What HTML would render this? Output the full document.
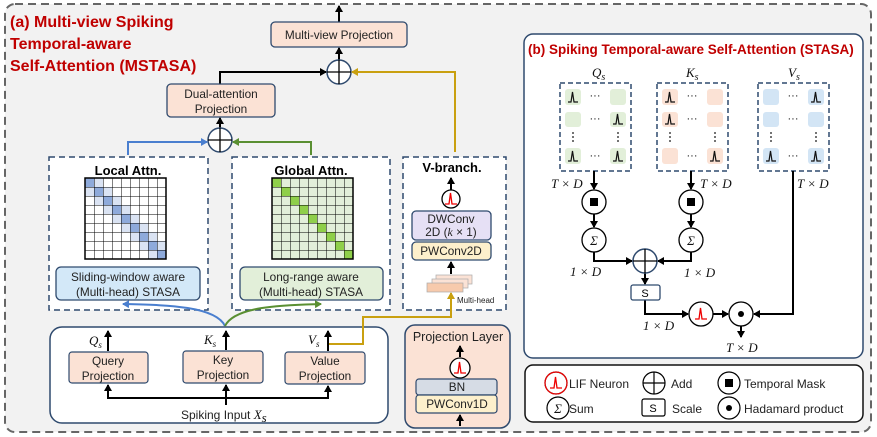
<!DOCTYPE html>
<html><head><meta charset="utf-8"><style>
html,body{margin:0;padding:0;background:#fff}
svg{display:block}
text{font-family:"Liberation Sans",sans-serif;}
.t{font-size:11.8px;fill:#222}
.m{font-family:"Liberation Serif",serif;font-style:italic;font-size:13px;fill:#111}
.ti{font-weight:bold;fill:#c00000}
</style></head><body>
<svg width="877" height="437" viewBox="0 0 877 437" xmlns="http://www.w3.org/2000/svg">
<defs>
<marker id="ak" markerWidth="8" markerHeight="8" refX="6" refY="4" orient="auto" markerUnits="userSpaceOnUse"><path d="M0,0 L7,4 L0,8 z" fill="#000"/></marker>
<marker id="ab" markerWidth="8" markerHeight="8" refX="6" refY="4" orient="auto" markerUnits="userSpaceOnUse"><path d="M0,0 L7,4 L0,8 z" fill="#4a7fcf"/></marker>
<marker id="ag" markerWidth="8" markerHeight="8" refX="6" refY="4" orient="auto" markerUnits="userSpaceOnUse"><path d="M0,0 L7,4 L0,8 z" fill="#5a8f32"/></marker>
<marker id="ay" markerWidth="8" markerHeight="8" refX="6" refY="4" orient="auto" markerUnits="userSpaceOnUse"><path d="M0,0 L7,4 L0,8 z" fill="#c9a010"/></marker>
<pattern id="grid" width="9" height="9" patternUnits="userSpaceOnUse" x="85" y="178"><path d="M0,0 H9 M0,0 V9" stroke="#000" stroke-width="1" fill="none"/></pattern>
<pattern id="grid2" width="9" height="9" patternUnits="userSpaceOnUse" x="272" y="178"><path d="M0,0 H9 M0,0 V9" stroke="#000" stroke-width="1" fill="none"/></pattern>
<g id="spk"><path d="M-5,4 L-2,4 L-0.5,-6 L1,4 L5,4" fill="none" stroke="#111" stroke-width="1.2"/></g>
<g id="spkr"><path d="M-6,4 L-2,4 L-0.5,-7 L1,4 L6,4" fill="none" stroke="#e00" stroke-width="1.3"/></g>
</defs>

<rect x="5" y="4" width="866" height="428" rx="10" fill="#f2f2f2" stroke="#666" stroke-width="2" stroke-dasharray="8,5"/>
<text class="ti" x="10" y="27" font-size="16">(a) Multi-view Spiking</text>
<text class="ti" x="10" y="49" font-size="16">Temporal-aware</text>
<text class="ti" x="10" y="71" font-size="16">Self-Attention (MSTASA)</text>

<line x1="339" y1="22" x2="339" y2="6" stroke="#000" stroke-width="2" marker-end="url(#ak)"/>
<rect x="271" y="22" width="136" height="25" rx="4" fill="#fbe2d5" stroke="#2f4a6e" stroke-width="1.3"/>
<text class="t" x="339" y="39" text-anchor="middle">Multi-view Projection</text>
<line x1="339" y1="60" x2="339" y2="48" stroke="#000" stroke-width="2" marker-end="url(#ak)"/>
<circle cx="339" cy="72" r="12" fill="#fff" stroke="#2f4a6e" stroke-width="1.5"/>
<path d="M327,72 H351 M339,60 V84" stroke="#000" stroke-width="1.3"/>
<polyline points="220,84 220,72 326,72" fill="none" stroke="#000" stroke-width="2" marker-end="url(#ak)"/>
<polyline points="455,152 455,72 352,72" fill="none" stroke="#c9a010" stroke-width="2" marker-end="url(#ay)"/>
<rect x="167" y="84" width="108" height="33" rx="4" fill="#fbe2d5" stroke="#2f4a6e" stroke-width="1.3"/>
<text class="t" x="221" y="98" text-anchor="middle">Dual-attention</text>
<text class="t" x="221" y="113" text-anchor="middle">Projection</text>
<line x1="220" y1="128" x2="220" y2="118" stroke="#000" stroke-width="2" marker-end="url(#ak)"/>
<circle cx="220" cy="140" r="12" fill="#fff" stroke="#2f4a6e" stroke-width="1.5"/>
<path d="M208,140 H232 M220,128 V152" stroke="#000" stroke-width="1.3"/>
<polyline points="128,155 128,142 207,142" fill="none" stroke="#4a7fcf" stroke-width="2" marker-end="url(#ab)"/>
<polyline points="311,155 311,142 233,142" fill="none" stroke="#5a8f32" stroke-width="2" marker-end="url(#ag)"/>

<rect x="49" y="157" width="159" height="153" fill="#fff" stroke="#2f4a6e" stroke-width="1.5" stroke-dasharray="6,4"/>
<text x="128" y="175" text-anchor="middle" font-size="13" font-weight="bold">Local Attn.</text>
<rect x="85" y="178" width="81" height="81" fill="#fff"/>
<g fill="#dae3f3">
<rect x="94" y="178" width="9" height="9"/><rect x="85" y="187" width="9" height="9"/><rect x="103" y="187" width="9" height="9"/><rect x="94" y="196" width="9" height="9"/><rect x="112" y="196" width="9" height="9"/><rect x="103" y="205" width="9" height="9"/><rect x="121" y="205" width="9" height="9"/><rect x="112" y="214" width="9" height="9"/><rect x="130" y="214" width="9" height="9"/><rect x="121" y="223" width="9" height="9"/><rect x="139" y="223" width="9" height="9"/><rect x="130" y="232" width="9" height="9"/><rect x="148" y="232" width="9" height="9"/><rect x="139" y="241" width="9" height="9"/><rect x="157" y="241" width="9" height="9"/><rect x="148" y="250" width="9" height="9"/>
</g>
<g fill="#8eaadb">
<rect x="85" y="178" width="9" height="9"/><rect x="94" y="187" width="9" height="9"/><rect x="103" y="196" width="9" height="9"/><rect x="112" y="205" width="9" height="9"/><rect x="121" y="214" width="9" height="9"/><rect x="130" y="223" width="9" height="9"/><rect x="139" y="232" width="9" height="9"/><rect x="148" y="241" width="9" height="9"/><rect x="157" y="250" width="9" height="9"/>
</g>
<rect x="85" y="178" width="81" height="81" fill="url(#grid)" stroke="#000" stroke-width="1.5"/>
<rect x="56" y="267" width="144" height="33" rx="5" fill="#d3e8f8" stroke="#2f4a6e" stroke-width="1.3"/>
<text class="t" x="128" y="281" text-anchor="middle">Sliding-window aware</text>
<text class="t" x="128" y="296" text-anchor="middle">(Multi-head) STASA</text>

<rect x="232" y="157" width="158" height="153" fill="#fff" stroke="#2f4a6e" stroke-width="1.5" stroke-dasharray="6,4"/>
<text x="311" y="175" text-anchor="middle" font-size="13" font-weight="bold">Global Attn.</text>
<rect x="272" y="178" width="81" height="81" fill="#e2efd9"/>
<g fill="#8fcf4a">
<rect x="272" y="178" width="9" height="9"/><rect x="281" y="187" width="9" height="9"/><rect x="290" y="196" width="9" height="9"/><rect x="299" y="205" width="9" height="9"/><rect x="308" y="214" width="9" height="9"/><rect x="317" y="223" width="9" height="9"/><rect x="326" y="232" width="9" height="9"/><rect x="335" y="241" width="9" height="9"/><rect x="344" y="250" width="9" height="9"/>
</g>
<rect x="272" y="178" width="81" height="81" fill="url(#grid2)" stroke="#000" stroke-width="1.5"/>
<rect x="240" y="267" width="143" height="33" rx="5" fill="#e2efd9" stroke="#2f4a6e" stroke-width="1.3"/>
<text class="t" x="311" y="281" text-anchor="middle">Long-range aware</text>
<text class="t" x="311" y="296" text-anchor="middle">(Multi-head) STASA</text>

<rect x="403" y="157" width="103" height="153" fill="#fff" stroke="#2f4a6e" stroke-width="1.5" stroke-dasharray="6,4"/>
<text x="452" y="172" text-anchor="middle" font-size="13" font-weight="bold">V-branch.</text>
<line x1="451" y1="190" x2="451" y2="178" stroke="#000" stroke-width="2" marker-end="url(#ak)"/>
<circle cx="451" cy="199" r="9" fill="#fff" stroke="#000" stroke-width="1.3"/>
<use href="#spkr" x="451" y="200"/>
<rect x="412" y="211" width="79" height="29" rx="4" fill="#e6e0f5" stroke="#2f4a6e" stroke-width="1.3"/>
<text class="t" x="451" y="223" text-anchor="middle">DWConv</text>
<text class="t" x="451" y="236" text-anchor="middle">2D (<tspan font-style="italic" font-family="Liberation Serif">k</tspan> × 1)</text>
<rect x="412" y="242" width="79" height="18" rx="4" fill="#fdf0cc" stroke="#2f4a6e" stroke-width="1.3"/>
<text class="t" x="451" y="255" text-anchor="middle">PWConv2D</text>
<line x1="451" y1="274" x2="451" y2="262" stroke="#000" stroke-width="2" marker-end="url(#ak)"/>
<rect x="436" y="275" width="36" height="9" fill="#fbe2d5" stroke="#aaa" stroke-width="0.7"/>
<rect x="432" y="279" width="36" height="9" fill="#fbe2d5" stroke="#aaa" stroke-width="0.7"/>
<rect x="427" y="283" width="36" height="9" fill="#f7caac" stroke="#aaa" stroke-width="0.7"/>
<text x="457" y="303" font-size="8" fill="#222">Multi-head</text>

<path d="M225,326 C215,305 160,305 123,304" fill="none" stroke="#4a7fcf" stroke-width="2" marker-end="url(#ab)"/>
<path d="M225,326 C235,305 290,305 321,304" fill="none" stroke="#5a8f32" stroke-width="2" marker-end="url(#ag)"/>

<rect x="50" y="327" width="338" height="96" rx="12" fill="#fff" stroke="#2f4a6e" stroke-width="1.5"/>
<rect x="69" y="352" width="79" height="31" rx="3" fill="#fbe2d5" stroke="#2f4a6e" stroke-width="1.2"/>
<text class="t" x="108" y="365" text-anchor="middle">Query</text><text class="t" x="108" y="380" text-anchor="middle">Projection</text>
<rect x="183" y="351" width="80" height="32" rx="3" fill="#fbe2d5" stroke="#2f4a6e" stroke-width="1.2"/>
<text class="t" x="223" y="364" text-anchor="middle">Key</text><text class="t" x="223" y="379" text-anchor="middle">Projection</text>
<rect x="285" y="352" width="80" height="32" rx="3" fill="#fbe2d5" stroke="#2f4a6e" stroke-width="1.2"/>
<text class="t" x="325" y="365" text-anchor="middle">Value</text><text class="t" x="325" y="380" text-anchor="middle">Projection</text>
<line x1="108" y1="351" x2="108" y2="331" stroke="#000" stroke-width="2" marker-end="url(#ak)"/>
<line x1="226" y1="350" x2="226" y2="331" stroke="#000" stroke-width="2" marker-end="url(#ak)"/>
<line x1="328" y1="351" x2="328" y2="331" stroke="#000" stroke-width="2" marker-end="url(#ak)"/>
<text class="m" x="89" y="345">Q<tspan font-size="9" dy="3">s</tspan></text>
<text class="m" x="204" y="344">K<tspan font-size="9" dy="3">s</tspan></text>
<text class="m" x="308" y="344">V<tspan font-size="9" dy="3">s</tspan></text>
<polyline points="108,398 328,398" fill="none" stroke="#000" stroke-width="2"/>
<line x1="108" y1="399" x2="108" y2="385" stroke="#000" stroke-width="2" marker-end="url(#ak)"/>
<line x1="328" y1="399" x2="328" y2="386" stroke="#000" stroke-width="2" marker-end="url(#ak)"/>
<line x1="226" y1="405" x2="226" y2="385" stroke="#000" stroke-width="2" marker-end="url(#ak)"/>
<text x="181" y="419" font-size="12" fill="#222">Spiking Input <tspan class="m">X</tspan><tspan class="m" font-size="9" dy="3">s</tspan></text>
<polyline points="329,344 363,344 363,317 451,317 451,293" fill="none" stroke="#c9a010" stroke-width="2" marker-end="url(#ay)"/>

<rect x="405" y="325" width="105" height="103" rx="10" fill="#fbe2d5" stroke="#2f4a6e" stroke-width="1.5"/>
<text x="458" y="341" text-anchor="middle" font-size="12.5" fill="#222">Projection Layer</text>
<line x1="460" y1="357" x2="460" y2="346" stroke="#000" stroke-width="2" marker-end="url(#ak)"/>
<circle cx="460" cy="368" r="10" fill="#fff" stroke="#000" stroke-width="1.3"/>
<use href="#spkr" x="460" y="369"/>
<rect x="416" y="379" width="81" height="16" rx="3" fill="#d6dce5" stroke="#2f4a6e" stroke-width="1.2"/>
<text class="t" x="457" y="391" text-anchor="middle">BN</text>
<rect x="416" y="395" width="81" height="18" rx="3" fill="#fdf0cc" stroke="#2f4a6e" stroke-width="1.2"/>
<text class="t" x="457" y="408" text-anchor="middle">PWConv1D</text>
<line x1="460" y1="426" x2="460" y2="415" stroke="#000" stroke-width="2" marker-end="url(#ak)"/>

<rect x="524" y="34" width="339" height="324" rx="9" fill="#fff" stroke="#2f4a6e" stroke-width="1.5"/>
<text class="ti" x="528" y="54" font-size="13.5">(b) Spiking Temporal-aware Self-Attention (STASA)</text>
<text class="m" x="592" y="77" font-size="14">Q<tspan font-size="10" dy="3">s</tspan></text>
<text class="m" x="686" y="77" font-size="14">K<tspan font-size="10" dy="3">s</tspan></text>
<text class="m" x="788" y="77" font-size="14">V<tspan font-size="10" dy="3">s</tspan></text>
<g stroke="#2f4a6e" stroke-width="1.5" stroke-dasharray="5,3" fill="#fff">
<rect x="560" y="83" width="71" height="88"/><rect x="657" y="83" width="71" height="88"/><rect x="758" y="83" width="71" height="88"/>
</g>
<g fill="#e2efd9">
<rect x="565" y="89" width="16" height="16" rx="3"/><rect x="610" y="89" width="16" height="16" rx="3"/>
<rect x="565" y="112" width="16" height="15" rx="3"/><rect x="610" y="112" width="16" height="15" rx="3"/>
<rect x="565" y="148" width="16" height="16" rx="3"/><rect x="610" y="148" width="16" height="16" rx="3"/>
</g>
<g fill="#fbe2d5">
<rect x="662" y="89" width="16" height="16" rx="3"/><rect x="707" y="89" width="16" height="16" rx="3"/>
<rect x="662" y="112" width="16" height="15" rx="3"/><rect x="707" y="112" width="16" height="15" rx="3"/>
<rect x="662" y="148" width="16" height="16" rx="3"/><rect x="707" y="148" width="16" height="16" rx="3"/>
</g>
<g fill="#d3e5f5">
<rect x="763" y="89" width="16" height="16" rx="3"/><rect x="808" y="89" width="16" height="16" rx="3"/>
<rect x="763" y="112" width="16" height="15" rx="3"/><rect x="808" y="112" width="16" height="15" rx="3"/>
<rect x="763" y="148" width="16" height="16" rx="3"/><rect x="808" y="148" width="16" height="16" rx="3"/>
</g>
<use href="#spk" x="573" y="98"/><use href="#spk" x="618" y="120"/><use href="#spk" x="573" y="157"/><use href="#spk" x="618" y="157"/>
<use href="#spk" x="670" y="98"/><use href="#spk" x="670" y="120"/><use href="#spk" x="715" y="157"/>
<use href="#spk" x="816" y="98"/><use href="#spk" x="771" y="157"/><use href="#spk" x="816" y="157"/>
<g font-size="11" fill="#111" text-anchor="middle">
<text x="595" y="99">···</text><text x="595" y="122">···</text><text x="595" y="159">···</text>
<text x="692" y="99">···</text><text x="692" y="122">···</text><text x="692" y="159">···</text>
<text x="793" y="99">···</text><text x="793" y="122">···</text><text x="793" y="159">···</text>
</g>
<g fill="#111">
<circle cx="573" cy="133" r="0.9"/><circle cx="573" cy="137" r="0.9"/><circle cx="573" cy="141" r="0.9"/>
<circle cx="618" cy="133" r="0.9"/><circle cx="618" cy="137" r="0.9"/><circle cx="618" cy="141" r="0.9"/>
<circle cx="670" cy="133" r="0.9"/><circle cx="670" cy="137" r="0.9"/><circle cx="670" cy="141" r="0.9"/>
<circle cx="715" cy="133" r="0.9"/><circle cx="715" cy="137" r="0.9"/><circle cx="715" cy="141" r="0.9"/>
<circle cx="771" cy="133" r="0.9"/><circle cx="771" cy="137" r="0.9"/><circle cx="771" cy="141" r="0.9"/>
<circle cx="816" cy="133" r="0.9"/><circle cx="816" cy="137" r="0.9"/><circle cx="816" cy="141" r="0.9"/>
</g>
<text class="m" x="551" y="188">T × D</text>
<text class="m" x="700" y="188">T × D</text>
<text class="m" x="797" y="188">T × D</text>
<g stroke="#000" stroke-width="2" fill="none">
<line x1="594" y1="171" x2="594" y2="189" marker-end="url(#ak)"/>
<line x1="691" y1="171" x2="691" y2="189" marker-end="url(#ak)"/>
<line x1="594" y1="214" x2="594" y2="227" marker-end="url(#ak)"/>
<line x1="691" y1="214" x2="691" y2="227" marker-end="url(#ak)"/>
<polyline points="594,252 594,261 632,261" marker-end="url(#ak)"/>
<polyline points="691,252 691,261 658,261" marker-end="url(#ak)"/>
<line x1="645" y1="273" x2="645" y2="284" marker-end="url(#ak)"/>
<polyline points="645,300 645,314 688,314" marker-end="url(#ak)"/>
<line x1="713" y1="314" x2="728" y2="314" marker-end="url(#ak)"/>
<polyline points="793,171 793,314 754,314" marker-end="url(#ak)"/>
<line x1="741" y1="326" x2="741" y2="337" marker-end="url(#ak)"/>
</g>
<g fill="#fff" stroke="#000" stroke-width="1.3">
<circle cx="594" cy="202" r="12"/><circle cx="691" cy="202" r="12"/>
<circle cx="594" cy="240" r="12"/><circle cx="691" cy="240" r="12"/>
<circle cx="701" cy="314" r="12"/><circle cx="741" cy="314" r="12"/>
</g>
<rect x="590" y="198" width="8" height="8" fill="#000"/><rect x="687" y="198" width="8" height="8" fill="#000"/>
<text class="m" x="594" y="245" text-anchor="middle" font-size="13">Σ</text>
<text class="m" x="691" y="245" text-anchor="middle" font-size="13">Σ</text>
<circle cx="645" cy="261" r="12" fill="#fff" stroke="#2f4a6e" stroke-width="1.5"/>
<path d="M633,261 H657 M645,249 V273" stroke="#000" stroke-width="1.3"/>
<text class="m" x="570" y="276">1 × D</text>
<text class="m" x="684" y="277">1 × D</text>
<rect x="631" y="285" width="29" height="15" rx="2" fill="#fff" stroke="#2f4a6e" stroke-width="1.3"/>
<text x="645" y="297" text-anchor="middle" font-size="11">S</text>
<text class="m" x="643" y="330">1 × D</text>
<use href="#spkr" x="701" y="315"/>
<circle cx="741" cy="314" r="3" fill="#000"/>
<text class="m" x="726" y="352">T × D</text>

<rect x="525" y="365" width="338" height="57" rx="8" fill="#fff" stroke="#111" stroke-width="1.5"/>
<g fill="#fff" stroke="#000" stroke-width="1.2">
<circle cx="556" cy="383" r="11"/><circle cx="654" cy="383" r="11"/><circle cx="729" cy="383" r="11"/>
<circle cx="558" cy="408" r="11"/><circle cx="729" cy="408" r="11"/>
<rect x="642" y="399" width="23" height="17" rx="2"/>
</g>
<circle cx="556" cy="383" r="11" fill="none" stroke="#e00" stroke-width="1.2"/>
<use href="#spkr" x="556" y="384"/>
<path d="M643,383 H665 M654,372 V394" stroke="#000" stroke-width="1.2"/>
<rect x="725" y="379" width="8" height="8" fill="#000"/>
<circle cx="729" cy="408" r="3" fill="#000"/>
<text class="m" x="558" y="413" text-anchor="middle" font-size="13">Σ</text>
<text x="653" y="412" text-anchor="middle" font-size="11">S</text>
<g font-size="12" fill="#222">
<text x="569" y="388">LIF Neuron</text><text x="671" y="388">Add</text><text x="744" y="388">Temporal Mask</text>
<text x="569" y="413">Sum</text><text x="672" y="413">Scale</text><text x="744" y="413">Hadamard product</text>
</g>
</svg>
</body></html>
